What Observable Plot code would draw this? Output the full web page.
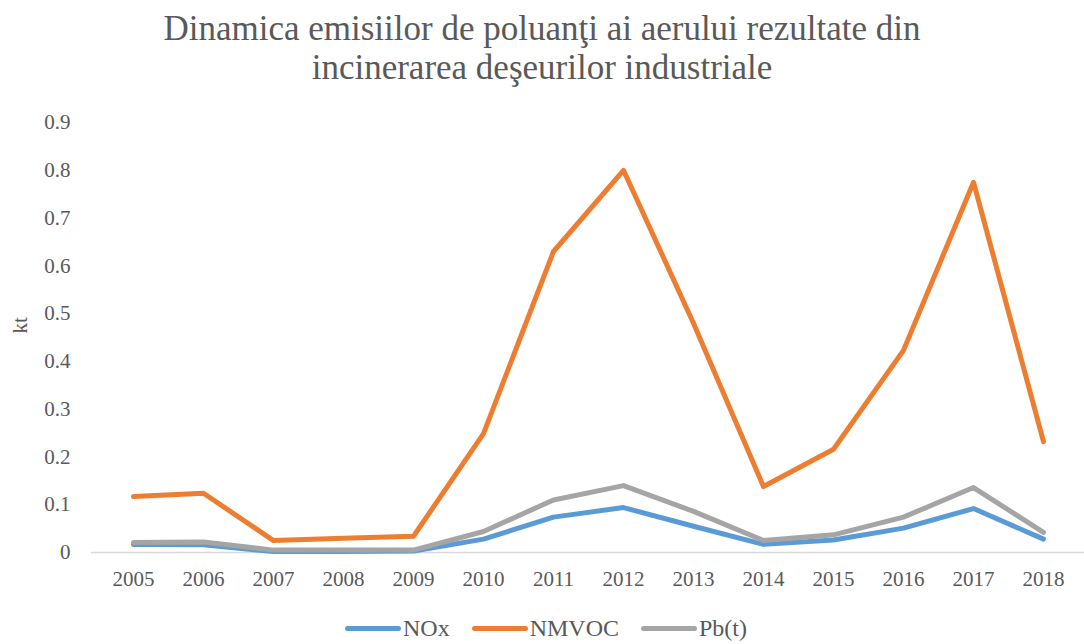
<!DOCTYPE html>
<html>
<head>
<meta charset="utf-8">
<script src="https://cdn.jsdelivr.net/npm/d3@7"></script>
<script src="https://cdn.jsdelivr.net/npm/@observablehq/plot@0.6"></script>
<style>
  html, body { margin: 0; padding: 0; background: #fff; }
  body { width: 1084px; height: 644px; overflow: hidden; font-family: 'Liberation Serif', serif; }
  #title { height: 100px; text-align: center; color: #595959; font-size: 35px; line-height: 39px; padding-top: 9px; box-sizing: border-box; font-family: 'Liberation Serif', serif; }
  #legend { height: 44px; display: flex; justify-content: center; align-items: center; gap: 22px; color: #595959; font-size: 24px; padding-top: 12px; box-sizing: border-box; margin-left: 8px; font-family: 'Liberation Serif', serif; }
  .item { display: flex; align-items: center; }
  .sw { width: 56px; height: 5px; border-radius: 3px; margin-right: 2px; }
</style>
</head>
<body>
<div id="title">Dinamica emisiilor de poluanţi ai aerului rezultate din<br>incinerarea deşeurilor industriale</div>
<div id="chart"></div>
<div id="legend"></div>
<script>
const years = [2005, 2006, 2007, 2008, 2009, 2010, 2011, 2012, 2013, 2014, 2015, 2016, 2017, 2018];
const nox   = [0.017, 0.016, 0.002, 0.002, 0.003, 0.028, 0.074, 0.094, 0.055, 0.017, 0.026, 0.051, 0.092, 0.028];
const nmvoc = [0.117, 0.124, 0.025, 0.030, 0.034, 0.249, 0.630, 0.800, 0.480, 0.138, 0.216, 0.423, 0.775, 0.232];
const pb    = [0.021, 0.022, 0.005, 0.005, 0.005, 0.044, 0.110, 0.140, 0.086, 0.025, 0.037, 0.074, 0.136, 0.042];
const seriesNames = ["NOx", "NMVOC", "Pb(t)"];
const seriesColors = ["#5B9BD5", "#ED7D31", "#A5A5A5"];
const yTicks = [0, 0.1, 0.2, 0.3, 0.4, 0.5, 0.6, 0.7, 0.8, 0.9];

const seriesValues = [nox, nmvoc, pb];
const data = [];
seriesNames.forEach((s, i) => years.forEach((yr, j) => data.push({series: s, year: yr, value: seriesValues[i][j]})));

const FONT = "'Liberation Serif', serif";
const chart = Plot.plot({
  width: 1084,
  height: 500,
  marginTop: 22,
  marginBottom: 48,
  marginLeft: 91,
  marginRight: 0,
  style: { fontFamily: FONT, color: "#595959", background: "#fff" },
  x: { type: "point", domain: years, padding: 0.5 },
  y: { domain: [0, 0.9] },
  color: { domain: seriesNames, range: seriesColors },
  marks: [
    Plot.ruleY([0], { stroke: "#D9D9D9", strokeWidth: 1.5 }),
    Plot.axisX({ tickSize: 0, tickPadding: 19, label: null, tickFormat: d => String(d), fill: "#595959", fontSize: 21, fontFamily: FONT }),
    Plot.axisY({ ticks: yTicks, tickSize: 0, tickPadding: 21, label: null, tickFormat: d => d === 0 ? "0" : d3.format(".1f")(d), fill: "#595959", fontSize: 21, fontFamily: FONT }),
    Plot.text(["kt"], { frameAnchor: "left", dx: -71, dy: -4, rotate: -90, fontSize: 21, fontFamily: FONT, fill: "#595959" }),
    Plot.line(data, { x: "year", y: "value", z: "series", stroke: "series", strokeWidth: 5, strokeLinecap: "round", strokeLinejoin: "round" })
  ]
});
document.getElementById("chart").appendChild(chart);

const legend = document.getElementById("legend");
seriesNames.forEach((s, i) => {
  const it = document.createElement("div");
  it.className = "item";
  const sw = document.createElement("div");
  sw.className = "sw";
  sw.style.background = seriesColors[i];
  const t = document.createElement("span");
  t.textContent = s;
  it.appendChild(sw); it.appendChild(t);
  legend.appendChild(it);
});
</script>
</body>
</html>
